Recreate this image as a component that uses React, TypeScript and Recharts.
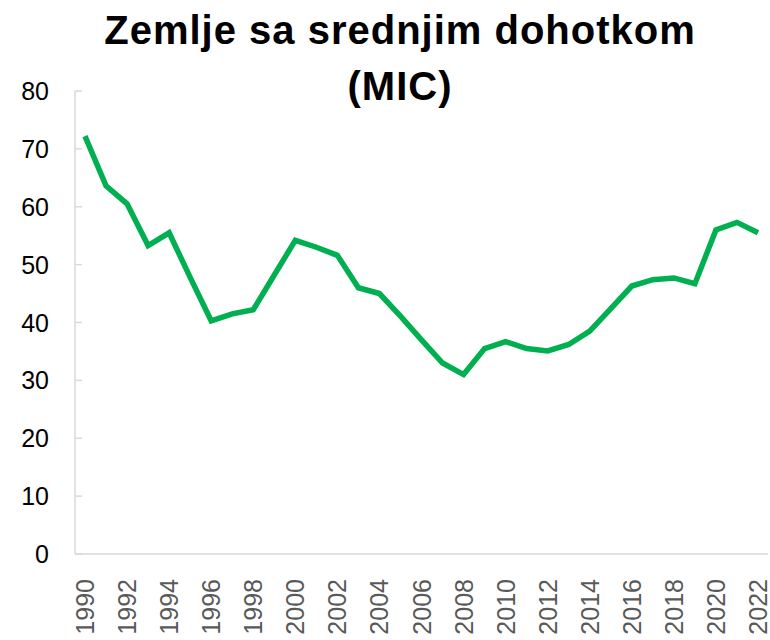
import { LineChart, Line, XAxis, YAxis } from "recharts";

const years = [
  "1990", "1991", "1992", "1993", "1994", "1995", "1996", "1997", "1998", "1999",
  "2000", "2001", "2002", "2003", "2004", "2005", "2006", "2007", "2008", "2009",
  "2010", "2011", "2012", "2013", "2014", "2015", "2016", "2017", "2018", "2019",
  "2020", "2021", "2022",
];
const micValues = [
  72.2, 63.6, 60.5, 53.3, 55.5, 47.8, 40.3, 41.5, 42.2, 48.2,
  54.2, 53.0, 51.6, 46.0, 45.0, 41.1, 37.0, 33.0, 31.0, 35.5,
  36.7, 35.5, 35.1, 36.2, 38.5, 42.4, 46.3, 47.4, 47.7, 46.7,
  56.0, 57.3, 55.5,
];
const yTicks = [0, 10, 20, 30, 40, 50, 60, 70, 80];
const xTicks = years.filter((_, i) => i % 2 === 0);

const data = years.map((year, i) => ({ year, value: micValues[i] }));

const font = "'Liberation Sans', Arial, sans-serif";

const YTick = (props: any) => {
  const { x, y, payload } = props;
  return (
    <g>
      <line x1={x + 26} x2={x + 33} y1={y} y2={y} stroke="#d9d9d9" strokeWidth={1.5} />
      <text x={x} y={y} dy="0.36em" textAnchor="end" fill="#000" fontSize={25} fontFamily={font}>
        {payload.value}
      </text>
    </g>
  );
};

const XTick = (props: any) => {
  const { x, y, payload } = props;
  return (
    <text
      x={x}
      y={y}
      dy="0.36em"
      transform={`rotate(-90, ${x}, ${y})`}
      textAnchor="end"
      fill="#595959"
      fontSize={25}
      fontFamily={font}
    >
      {payload.value}
    </text>
  );
};

const App = () => {
  return (
    <div style={{ position: "absolute", left: 0, top: 0, width: 770, height: 640, background: "#fff", overflow: "hidden" }}>
      <LineChart
        width={770}
        height={640}
        data={data}
        margin={{ top: 91, right: 2, left: 0, bottom: 0 }}
      >
        <XAxis
          dataKey="year"
          ticks={xTicks}
          interval={0}
          height={86}
          padding={{ left: 10, right: 10 }}
          axisLine={{ stroke: "#d9d9d9", strokeWidth: 1.5 }}
          tickLine={false}
          tickSize={0}
          tickMargin={25}
          tick={<XTick />}
        />
        <YAxis
          domain={[0, 80]}
          ticks={yTicks}
          width={75}
          tickSize={0}
          tickMargin={26}
          axisLine={{ stroke: "#d9d9d9", strokeWidth: 1.5 }}
          tickLine={false}
          tick={<YTick />}
        />
        <Line
          type="linear"
          dataKey="value"
          stroke="#00b050"
          strokeWidth={5.5}
          dot={false}
          isAnimationActive={false}
        />
      </LineChart>
      <div
        style={{
          position: "absolute",
          left: 0,
          top: 2,
          width: 800,
          textAlign: "center",
          fontFamily: font,
          fontWeight: "bold",
          fontSize: 40,
          letterSpacing: 1,
          lineHeight: "56px",
          color: "#000",
        }}
      >
        Zemlje sa srednjim dohotkom
        <br />
        (MIC)
      </div>
    </div>
  );
};

export default App;
